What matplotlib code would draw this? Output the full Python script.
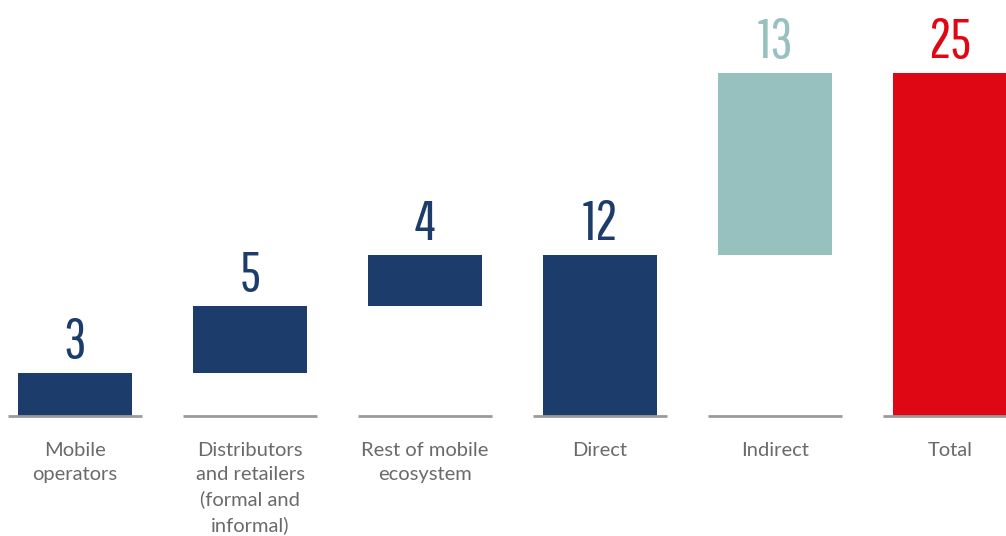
import matplotlib
matplotlib.use("Agg")
import matplotlib.pyplot as plt

# waterfall: bar start and height, shown labels are rounded
categories = ["Mobile\noperators", "Distributors\nand retailers\n(formal and\ninformal)",
              "Rest of mobile\necosystem", "Direct", "Indirect", "Total"]
bottoms = [0, 3.1, 8.0, 0, 11.7, 0]
heights = [3.1, 4.9, 3.7, 11.7, 13.3, 25]
value_labels = ["3", "5", "4", "12", "13", "25"]
colors = ["#1c3c6b", "#1c3c6b", "#1c3c6b", "#1c3c6b", "#96c1be", "#e00715"]

fig = plt.figure(figsize=(10.06, 5.36), dpi=100)
ax = fig.add_axes([0, 0, 1, 1])

x = list(range(len(categories)))
ax.bar(x, heights, bottom=bottoms, width=0.651, color=colors, zorder=2)
ax.hlines([0] * len(x), [i - 0.383 for i in x], [i + 0.383 for i in x],
          color="#9a9a9a", lw=2, zorder=3)

for i in x:
    top = bottoms[i] + heights[i]
    ax.annotate(value_labels[i], (i, top), xytext=(0, 15), textcoords="offset pixels",
                ha="center", va="baseline", fontsize=40, color=colors[i],
                family=["Pathway Gothic One", "Antonio", "DejaVu Sans"])
    ax.annotate(categories[i], (i, 0), xytext=(0, -26), textcoords="offset pixels",
                ha="center", va="top", fontsize=14.5, color="#6a6a6a",
                linespacing=1.5, family=["Lato", "DejaVu Sans"])

ax.set_xlim(-0.4286, 5.32)
ax.set_ylim(-8.746, 30.32)
ax.axis("off")

fig.savefig("out.png", dpi=100)
